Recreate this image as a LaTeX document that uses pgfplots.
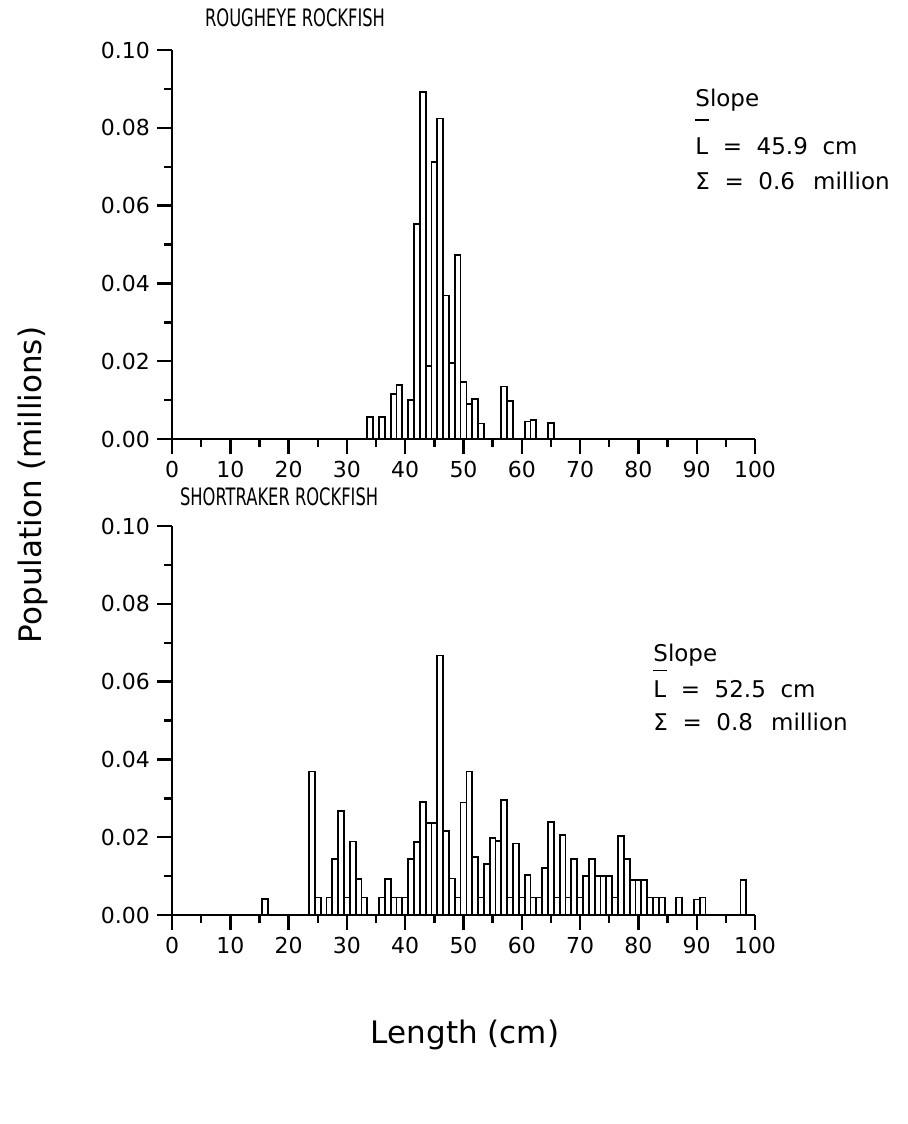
\documentclass[border=0pt]{standalone}
\usepackage{fontspec}
\setmainfont{DejaVu Sans}
\usepackage{graphicx}
\usepackage{pgfplots}
\usepackage{pgfplotstable}
\pgfplotsset{compat=1.18}

\pgfplotstableread{
L v
34 0.0056
36 0.0056
38 0.0116
39 0.0138
41 0.0101
42 0.0553
43 0.0893
44 0.0187
45 0.0713
46 0.0824
47 0.0369
48 0.0195
49 0.0472
50 0.0146
51 0.0091
52 0.0103
53 0.0040
57 0.0135
58 0.0097
61 0.0045
62 0.0048
65 0.0041
}\rougheye

\pgfplotstableread{
L v
16 0.0042
24 0.0369
25 0.0045
27 0.0045
28 0.0145
29 0.0268
30 0.0045
31 0.0189
32 0.0092
33 0.0045
36 0.0045
37 0.0092
38 0.0045
39 0.0045
40 0.0045
41 0.0143
42 0.0187
43 0.0291
44 0.0236
45 0.0237
46 0.0667
47 0.0215
48 0.0094
49 0.0045
50 0.0289
51 0.0369
52 0.0150
53 0.0045
54 0.0132
55 0.0197
56 0.0190
57 0.0295
58 0.0045
59 0.0184
60 0.0045
61 0.0102
62 0.0045
63 0.0045
64 0.0120
65 0.0240
66 0.0045
67 0.0206
68 0.0045
69 0.0145
70 0.0045
71 0.0100
72 0.0145
73 0.0100
74 0.0100
75 0.0100
76 0.0045
77 0.0203
78 0.0144
79 0.0090
80 0.0090
81 0.0090
82 0.0045
83 0.0045
84 0.0045
87 0.0045
90 0.0040
91 0.0045
98 0.0090
}\shortraker

\pgfplotsset{
  fishaxis/.style={
    scale only axis, width=291.5pt, height=194.5pt, anchor=south west,
    xmin=0, xmax=100, ymin=0, ymax=0.1,
    axis x line*=bottom, axis y line*=left,
    axis line style={line width=1.2pt, black},
    xtick={0,10,20,30,40,50,60,70,80,90,100},
    minor xtick={5,15,25,35,45,55,65,75,85,95},
    ytick={0,0.02,0.04,0.06,0.08,0.1},
    minor ytick={0.01,0.03,0.05,0.07,0.09},
    tick align=outside,
    major tick length=7.5pt, minor tick length=4pt,
    every tick/.style={line width=1.2pt, black},
    scaled y ticks=false,
    yticklabel style={/pgf/number format/.cd, fixed, fixed zerofill, precision=2},
    xticklabel style={/pgf/number format/.cd, fixed},
    /pgf/number format/assume math mode=true,
    tick label style={font=\fontsize{11}{13}\selectfont},
    clip=false,
  }
}

\newcommand{\Lbar}[1]{\rlap{\raisebox{#1}{\rule{0.6em}{0.07em}}}L}

\begin{document}
\begin{tikzpicture}
\path[use as bounding box] (0,0) rectangle (453.5pt,-562pt);

\begin{axis}[fishaxis, at={(86pt,-219.5pt)}]
\addplot[ybar, bar width=1, draw=black, fill=white, line width=0.9pt] table[x=L,y=v]{\rougheye};
\end{axis}

\begin{axis}[fishaxis, at={(86pt,-457.5pt)}]
\addplot[ybar, bar width=1, draw=black, fill=white, line width=0.9pt] table[x=L,y=v]{\shortraker};
\end{axis}

\node[anchor=west, font=\fontsize{12}{14}\selectfont] at (99pt,-9pt) {\scalebox{0.68}[1]{ROUGHEYE ROCKFISH}};
\node[anchor=west, font=\fontsize{12}{14}\selectfont] at (86.5pt,-248.5pt) {\scalebox{0.68}[1]{SHORTRAKER ROCKFISH}};

\node[rotate=90, font=\fontsize{15.5}{18}\selectfont] at (16.5pt,-242.5pt) {Population (millions)};
\node[font=\fontsize{15.5}{18}\selectfont] at (232.5pt,-517.5pt) {Length (cm)};

\begin{scope}[every node/.style={anchor=base west, font=\fontsize{11.5}{13}\selectfont, inner sep=0pt}]
\node at (347.5pt,-53pt) {Slope};
\node at (347.5pt,-77pt) {\Lbar{1.45em}\ \ =\ \ 45.9\ \ cm};
\node at (347.5pt,-94.5pt) {Σ\ \ =\ \ 0.6\ \ \hspace{0.15em}million};
\node at (326.5pt,-330.5pt) {Slope};
\node at (326.5pt,-348.5pt) {\Lbar{1.12em}\ \ =\ \ 52.5\ \ cm};
\node at (326.5pt,-365pt) {Σ\ \ =\ \ 0.8\ \ \hspace{0.15em}million};
\end{scope}
\end{tikzpicture}
\end{document}
